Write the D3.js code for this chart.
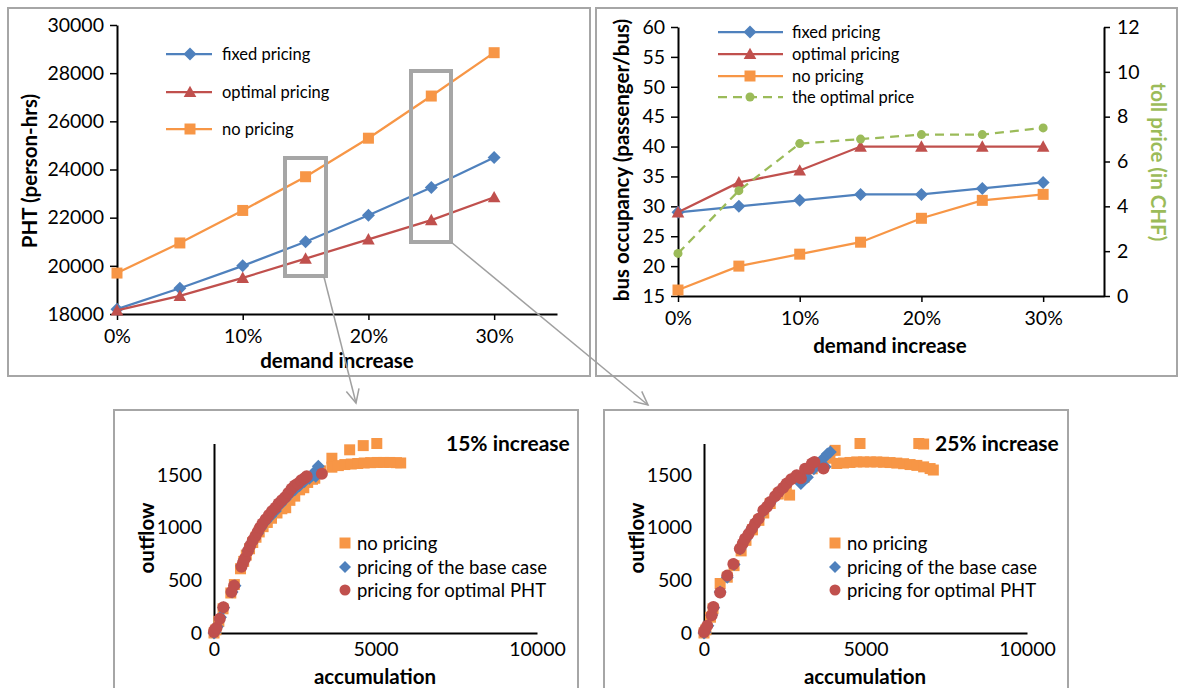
<!DOCTYPE html>
<html><head><meta charset="utf-8">
<script src="https://cdn.jsdelivr.net/npm/d3@7"></script>
<style>
html,body{margin:0;padding:0;background:#fff;}
svg text{font-family:Lato,"Noto Sans",sans-serif;fill:#000;}
</style></head>
<body><svg id="c" width="1179" height="688"></svg>
<script>
// ---------- DATA ----------
const demand = [0, 0.05, 0.10, 0.15, 0.20, 0.25, 0.30];
const demandTicks = [0, 0.10, 0.20, 0.30];
const phtFixed   = [18200, 19070, 20000, 21000, 22100, 23250, 24500];
const phtOptimal = [18150, 18750, 19500, 20300, 21100, 21900, 22850];
const phtNo      = [19700, 20950, 22300, 23700, 25300, 27050, 28850];
const phtTicks = [18000, 20000, 22000, 24000, 26000, 28000, 30000];

const occFixed   = [29, 30, 31, 32, 32, 33, 34];
const occOptimal = [29, 34, 36, 40, 40, 40, 40];
const occNo      = [16, 20, 22, 24, 28, 31, 32];
const tollOptimal = [1.9, 4.7, 6.8, 7.0, 7.2, 7.2, 7.5];
const occTicks = [15, 20, 25, 30, 35, 40, 45, 50, 55, 60];
const tollTicks = [0, 2, 4, 6, 8, 10, 12];

const accTicks = [0, 5000, 10000];
const outTicks = [0, 500, 1000, 1500];

// 15% increase scatter: [accumulation, outflow]
const s15No = [[0,0],[60,30],[150,110],[280,230],[520,380],[630,460],[820,610],[920,680],[1000,740],[1100,800],[1200,860],[1300,910],[1400,960],[1520,1010],[1650,1050],[1780,1090],[1950,1140],[2100,1180],[2220,1190],[2350,1260],[2500,1300],[2650,1360],[2780,1380],[2900,1430],[3050,1460],[3120,1470],[3300,1540],
  [3650,1660],[4200,1740],[4620,1780],[5040,1800],
  [3650,1575],[3850,1590],[4050,1600],[4250,1605],[4450,1610],[4650,1615],[4850,1618],[5050,1620],[5250,1620],[5450,1620],[5650,1618],[5780,1615]];
const s15Base = [[0,0],[30,10],[100,60],[200,150],[300,240],[560,390],[650,450],[860,640],[950,700],[1050,780],[1150,850],[1250,900],[1350,950],[1450,1000],[1600,1060],[1750,1110],[1900,1160],[2050,1220],[2200,1270],[2350,1320],[2500,1360],[2650,1400],[2800,1440],[2950,1470],[3050,1500],[3150,1540],[3230,1585],[3300,1520],[3150,1490]];
const s15Opt = [[0,10],[20,30],[80,50],[180,135],[290,245],[540,390],[620,450],[850,630],[900,670],[960,710],[1050,780],[1120,830],[1200,880],[1280,920],[1350,960],[1420,1000],[1500,1040],[1600,1080],[1700,1120],[1800,1160],[1900,1190],[2000,1230],[2100,1260],[2200,1290],[2300,1330],[2400,1370],[2500,1400],[2600,1420],[2700,1450],[2800,1470],[2870,1490],[3340,1512]];

// 25% increase scatter
const s25No = [[0,0],[60,30],[200,150],[280,230],[500,470],[720,530],[930,640],[1150,780],[1300,880],[1500,980],[1700,1070],[1850,1140],[2050,1230],[2300,1320],[2550,1390],[2650,1310],[2850,1470],[3100,1480],[3350,1560],[3600,1610],[3900,1660],[4060,1735],[4830,1800],[6650,1800],[6800,1795],
  [4110,1610],[4320,1615],[4520,1620],[4730,1625],[4940,1625],[5150,1625],[5350,1625],[5560,1622],[5760,1619],[5970,1614],[6180,1608],[6380,1600],[6590,1592],[6800,1578],[7000,1562],[7100,1548]];
const s25Base = [[0,0],[30,10],[120,70],[240,170],[300,240],[500,390],[720,530],[930,650],[1120,800],[1280,890],[1480,990],[1680,1080],[1850,1160],[2050,1240],[2300,1330],[2560,1410],[2870,1490],[3000,1420],[3200,1480],[3400,1560],[3550,1610],[3700,1660],[3820,1700],[3910,1720],[3750,1580]];
const s25Opt = [[0,10],[30,30],[100,70],[238,168],[290,247],[500,385],[720,545],[910,655],[1110,800],[1200,850],[1270,895],[1380,940],[1480,990],[1580,1040],[1690,1085],[1840,1165],[1950,1200],[2050,1245],[2200,1300],[2310,1340],[2450,1380],[2560,1420],[2700,1460],[2870,1498],[3000,1470],[3130,1560],[3250,1560],[3340,1610],[3420,1625],[3700,1562]];

// ---------- COLORS ----------
const C = {blue:"#4F81BD", red:"#C0504D", orange:"#F79646", green:"#9BBB59", frame:"#A6A6A6"};

const svg = d3.select("#c");
svg.append("rect").attr("width",1179).attr("height",688).attr("fill","#fff");

function marker(g, shape, x, y, s, color){
  let p;
  if(shape==="diamond") p=`M${x},${y-s}L${x+s},${y}L${x},${y+s}L${x-s},${y}Z`;
  else if(shape==="square") p=`M${x-s},${y-s}h${2*s}v${2*s}h${-2*s}Z`;
  else if(shape==="triangle") p=`M${x},${y-s*1.05}L${x+s*1.05},${y+s*0.85}L${x-s*1.05},${y+s*0.85}Z`;
  if(shape==="circle") g.append("circle").attr("cx",x).attr("cy",y).attr("r",s).attr("fill",color);
  else g.append("path").attr("d",p).attr("fill",color);
}

function frame(x,y,w,h){
  svg.append("rect").attr("x",x).attr("y",y).attr("width",w).attr("height",h)
    .attr("fill","none").attr("stroke",C.frame).attr("stroke-width",2);
}
frame(8,8,582,368);
frame(596,8,581,368);
frame(114,410,464,290);
frame(604,410,464,290);

const TICK=19.5, TITLE=20.5, LEG=16.5;
function styleAxis(g){
  g.select(".domain").attr("stroke","#000").attr("stroke-width",2);
  g.selectAll(".tick line").attr("stroke","#000").attr("stroke-width",1.5);
  g.selectAll(".tick text").attr("font-size",TICK).attr("fill","#000");
}
const pct = d=>Math.round(d*100)+"%";

// ---------- TOP-LEFT: PHT ----------
{
  const x = d3.scaleLinear().domain([0,0.35]).range([117,557]);
  const y = d3.scaleLinear().domain([18000,30000]).range([314,25]);
  const g = svg.append("g");
  const ya = g.append("g").attr("transform","translate(117,0)")
    .call(d3.axisLeft(y).tickValues(phtTicks).tickSize(7).tickSizeOuter(0).tickPadding(6).tickFormat(d3.format("d")));
  styleAxis(ya);
  const xa = g.append("g").attr("transform","translate(0,314)")
    .call(d3.axisBottom(x).tickValues(demandTicks).tickSize(6).tickSizeOuter(0).tickPadding(9).tickFormat(pct));
  styleAxis(xa);
  const series = [
    {v:phtNo, c:C.orange, m:"square", s:5.5},
    {v:phtFixed, c:C.blue, m:"diamond", s:6.5},
    {v:phtOptimal, c:C.red, m:"triangle", s:6}
  ];
  const line = d3.line().x((d,i)=>x(demand[i])).y(d=>y(d));
  series.forEach(s=>{
    g.append("path").datum(s.v).attr("d",line).attr("fill","none").attr("stroke",s.c).attr("stroke-width",2.25);
    s.v.forEach((d,i)=>marker(g,s.m,x(demand[i]),y(d),s.s,s.c));
  });
  const leg=[{t:"fixed pricing",c:C.blue,m:"diamond",s:6.5},{t:"optimal pricing",c:C.red,m:"triangle",s:6},{t:"no pricing",c:C.orange,m:"square",s:5.5}];
  leg.forEach((l,i)=>{
    const yy=[54,92,129][i];
    g.append("line").attr("x1",166).attr("x2",212).attr("y1",yy).attr("y2",yy).attr("stroke",l.c).attr("stroke-width",2.25);
    marker(g,l.m,190,yy,l.s,l.c);
    g.append("text").attr("x",222).attr("y",yy+6).attr("font-size",LEG).text(l.t);
  });
  g.append("text").attr("x",337).attr("y",368).attr("text-anchor","middle").attr("font-size",TITLE).attr("font-weight","bold").text("demand increase");
  g.append("text").attr("transform","translate(37,171) rotate(-90)").attr("text-anchor","middle").attr("font-size",TITLE).attr("font-weight","bold").text("PHT (person-hrs)");
  g.append("rect").attr("x",285).attr("y",158).attr("width",41).attr("height",118).attr("fill","none").attr("stroke",C.frame).attr("stroke-width",4);
  g.append("rect").attr("x",411).attr("y",71).attr("width",40).attr("height",171).attr("fill","none").attr("stroke",C.frame).attr("stroke-width",4);
}

// ---------- TOP-RIGHT: bus occupancy ----------
{
  const x = d3.scaleLinear().domain([0,0.35]).range([678,1104]);
  const y = d3.scaleLinear().domain([15,60]).range([296,27]);
  const y2 = d3.scaleLinear().domain([0,12]).range([296,27]);
  const g = svg.append("g");
  const ya = g.append("g").attr("transform","translate(678,0)")
    .call(d3.axisLeft(y).tickValues(occTicks).tickSize(7).tickSizeOuter(0).tickPadding(6));
  styleAxis(ya);
  const ya2 = g.append("g").attr("transform","translate(1104,0)")
    .call(d3.axisRight(y2).tickValues(tollTicks).tickSize(6).tickSizeOuter(0).tickPadding(7));
  styleAxis(ya2);
  const xa = g.append("g").attr("transform","translate(0,296)")
    .call(d3.axisBottom(x).tickValues(demandTicks).tickSize(6).tickSizeOuter(0).tickPadding(9).tickFormat(pct));
  styleAxis(xa);
  const line = d3.line().x((d,i)=>x(demand[i])).y(d=>y(d));
  const line2 = d3.line().x((d,i)=>x(demand[i])).y(d=>y2(d));
  const series = [
    {v:occFixed, c:C.blue, m:"diamond", s:6.5},
    {v:occOptimal, c:C.red, m:"triangle", s:6},
    {v:occNo, c:C.orange, m:"square", s:5.5}
  ];
  series.forEach(s=>{
    g.append("path").datum(s.v).attr("d",line).attr("fill","none").attr("stroke",s.c).attr("stroke-width",2.25);
    s.v.forEach((d,i)=>marker(g,s.m,x(demand[i]),y(d),s.s,s.c));
  });
  g.append("path").datum(tollOptimal).attr("d",line2).attr("fill","none").attr("stroke",C.green).attr("stroke-width",2.25).attr("stroke-dasharray","9,6");
  tollOptimal.forEach((d,i)=>marker(g,"circle",x(demand[i]),y2(d),4.5,C.green));
  const leg=[{t:"fixed pricing",c:C.blue,m:"diamond",s:6.5},{t:"optimal pricing",c:C.red,m:"triangle",s:6},{t:"no pricing",c:C.orange,m:"square",s:5.5},{t:"the optimal price",c:C.green,m:"circle",s:4.5,d:true}];
  leg.forEach((l,i)=>{
    const yy=[32,54,76,97][i];
    const ln=g.append("line").attr("x1",718).attr("x2",783).attr("y1",yy).attr("y2",yy).attr("stroke",l.c).attr("stroke-width",2.25);
    if(l.d) ln.attr("stroke-dasharray","9,6");
    marker(g,l.m,750,yy,l.s,l.c);
    g.append("text").attr("x",792).attr("y",yy+6).attr("font-size",LEG).text(l.t);
  });
  g.append("text").attr("x",890).attr("y",353).attr("text-anchor","middle").attr("font-size",TITLE).attr("font-weight","bold").text("demand increase");
  g.append("text").attr("transform","translate(629,160) rotate(-90)").attr("text-anchor","middle").attr("font-size",TITLE).attr("font-weight","bold").text("bus occupancy (passenger/bus)");
  g.append("text").attr("transform","translate(1151,162) rotate(90)").attr("text-anchor","middle").attr("font-size",TITLE).attr("font-weight","bold").style("fill",C.green).text("toll price (in CHF)");
}

// ---------- arrows ----------
function arrow(x1,y1,x2,y2){
  svg.append("line").attr("x1",x1).attr("y1",y1).attr("x2",x2).attr("y2",y2).attr("stroke","#A0A0A0").attr("stroke-width",1.5);
  const a=Math.atan2(y2-y1,x2-x1), L=15, w=0.45;
  const p=`M${x2-L*Math.cos(a-w)},${y2-L*Math.sin(a-w)}L${x2},${y2}L${x2-L*Math.cos(a+w)},${y2-L*Math.sin(a+w)}`;
  svg.append("path").attr("d",p).attr("fill","none").attr("stroke","#A0A0A0").attr("stroke-width",1.5);
}
arrow(324,277,356,403);
arrow(451,242,648,405);

// ---------- BOTTOM scatters ----------
function scatter(x0, data, title, titleX){
  const x = d3.scaleLinear().domain([0,10000]).range([x0,x0+323]);
  const y = d3.scaleLinear().domain([0,1800]).range([633,443.5]);
  const g = svg.append("g");
  const ya = g.append("g").attr("transform",`translate(${x0},0)`)
    .call(d3.axisLeft(y).tickValues(outTicks).tickSize(0).tickSizeOuter(0).tickPadding(12).tickFormat(d3.format("d")));
  styleAxis(ya);
  const xa = g.append("g").attr("transform","translate(0,633)")
    .call(d3.axisBottom(x).tickValues(accTicks).tickSize(0).tickSizeOuter(0).tickPadding(9).tickFormat(d3.format("d")));
  styleAxis(xa);
  const sets=[{v:data[0],c:C.orange,m:"square",s:5.5},{v:data[1],c:C.blue,m:"diamond",s:6.5},{v:data[2],c:C.red,m:"circle",s:6}];
  sets.forEach(s=>s.v.forEach(d=>marker(g,s.m,x(d[0]),y(d[1]),s.s,s.c)));
  const leg=[{t:"no pricing",c:C.orange,m:"square",s:5.5},{t:"pricing of the base case",c:C.blue,m:"diamond",s:6},{t:"pricing for optimal PHT",c:C.red,m:"circle",s:5.5}];
  leg.forEach((l,i)=>{
    const yy=[543,567,590][i];
    marker(g,l.m,x0+131,yy,l.s,l.c);
    g.append("text").attr("x",x0+143).attr("y",yy+6.5).attr("font-size",18.5).text(l.t);
  });
  g.append("text").attr("x",titleX).attr("y",451).attr("font-size",21).attr("font-weight","bold").text(title);
  g.append("text").attr("x",x0+161).attr("y",684).attr("text-anchor","middle").attr("font-size",TITLE).attr("font-weight","bold").text("accumulation");
  g.append("text").attr("transform",`translate(${x0-60},538) rotate(-90)`).attr("text-anchor","middle").attr("font-size",TITLE).attr("font-weight","bold").text("outflow");
}
scatter(214,[s15No,s15Base,s15Opt],"15% increase",446);
scatter(704,[s25No,s25Base,s25Opt],"25% increase",935);
</script></body></html>
